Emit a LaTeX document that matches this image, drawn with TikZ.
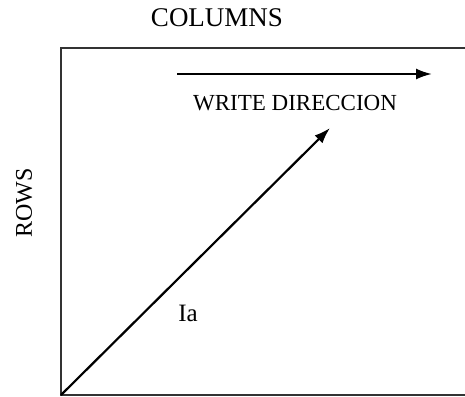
\documentclass[tikz,border=0pt]{standalone}
\usepackage{fontspec}
\setmainfont{Liberation Serif}
\usetikzlibrary{arrows.meta,positioning}

\begin{document}
\begin{tikzpicture}[
    x=1pt, y=-1pt,
    >=Latex,
    frame/.style={draw=black!80, line width=1.4pt},
    dirarrow/.style={line width=2.2pt, draw=black,
      -{Latex[length=16pt,width=11pt]}},
    axislabel/.style={font=\fontsize{27}{32}\selectfont, inner sep=0pt},
    smalllabel/.style={font=\fontsize{23}{27}\selectfont, inner sep=0pt}
  ]
    \useasboundingbox (0,0) rectangle (465,396);

    % frame, open on the right
    \coordinate (topright) at (465,48);
    \coordinate (topleft) at (61,48);
    \coordinate (origin) at (61,395);
    \coordinate (botright) at (465,395);
    \draw[frame] (topright) -- (topleft) -- (origin) -- (botright);

    \node[axislabel] (columns) at (217,18) {COLUMNS};
    \node[axislabel, font=\fontsize{24}{28}\selectfont, rotate=90] (rows) at (24,203) {ROWS};

    % write direction
    \coordinate (wstart) at (177,74);
    \coordinate (wend) at (432,74);
    \draw[dirarrow] (wstart) -- (wend);
    \node[smalllabel] (write) at (295,103) {WRITE DIRECCION};

    % diagonal
    \coordinate (tip) at (330,128);
    \draw[dirarrow] (origin) -- (tip);
    \node[smalllabel, font=\fontsize{25}{30}\selectfont] (ia) at (188,313) {Ia};
  \end{tikzpicture}
\end{document}
